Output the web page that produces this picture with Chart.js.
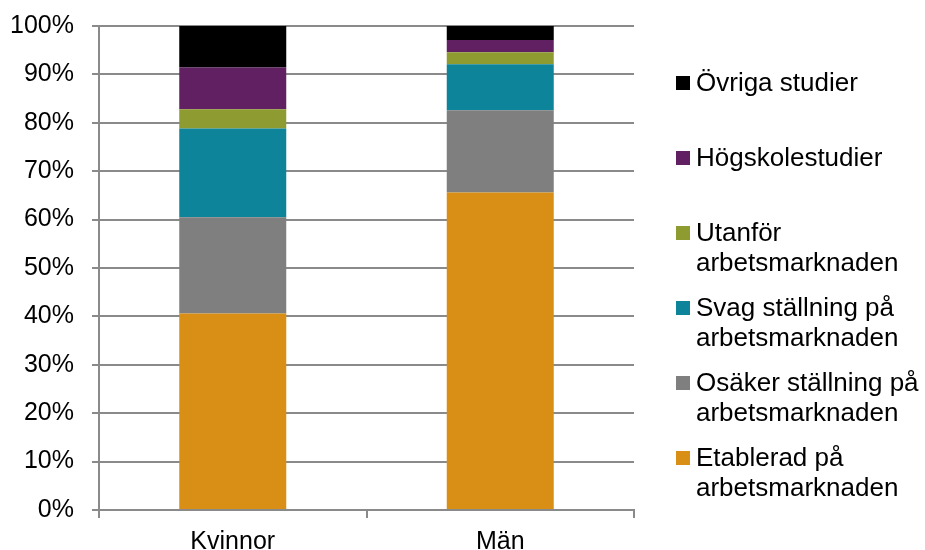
<!DOCTYPE html>
<html>
<head>
<meta charset="utf-8">
<script src="https://cdn.jsdelivr.net/npm/chart.js@4"></script>
<style>
  html, body { margin: 0; padding: 0; background: #ffffff; }
  #wrap { width: 925px; height: 550px; position: relative; }
</style>
</head>
<body>
<div id="wrap"><canvas id="c" width="925" height="550"></canvas></div>
<script>
const categories = ['Kvinnor', 'Män'];
const seriesNames = [
  'Etablerad på\narbetsmarknaden',
  'Osäker ställning på\narbetsmarknaden',
  'Svag ställning på\narbetsmarknaden',
  'Utanför\narbetsmarknaden',
  'Högskolestudier',
  'Övriga studier'
];
const etablerad = [40.6, 65.6];
const osaker    = [19.9, 17.0];
const svag      = [18.3, 9.5];
const utanfor   = [4.0, 2.5];
const hogskole  = [8.6, 2.5];
const ovriga    = [8.6, 2.9];
const seriesColors = ['#d98f15', '#7f7f80', '#0e849b', '#8e9b30', '#602062', '#000000'];
const yTicks = [0, 10, 20, 30, 40, 50, 60, 70, 80, 90, 100];

const seriesValues = [etablerad, osaker, svag, utanfor, hogskole, ovriga];
const FONT = "'Liberation Sans', Arial, sans-serif";
const GRID = '#8a8a8a';

const legendPlugin = {
  id: 'customLegend',
  afterDraw(chart) {
    const ctx = chart.ctx;
    ctx.save();
    ctx.font = '26px ' + FONT;
    ctx.textBaseline = 'middle';
    ctx.textAlign = 'left';
    const ds = chart.data.datasets;
    const x0 = 676, size = 14, top = 83, step = 75, lh = 30;
    for (let i = 0; i < ds.length; i++) {
      const d = ds[ds.length - 1 - i];
      const y = top + i * step;
      ctx.fillStyle = d.backgroundColor;
      ctx.fillRect(x0, y - size / 2, size, size);
      ctx.fillStyle = '#000000';
      const lines = d.label.split('\n');
      lines.forEach((ln, k) => ctx.fillText(ln, x0 + 20, y + 1 + k * lh));
    }
    ctx.restore();
  }
};

new Chart(document.getElementById('c'), {
  type: 'bar',
  data: {
    labels: categories,
    datasets: seriesNames.map((n, i) => ({
      label: n,
      data: seriesValues[i],
      backgroundColor: seriesColors[i],
      borderWidth: 0,
      barPercentage: 0.4,
      categoryPercentage: 1.0
    }))
  },
  options: {
    responsive: false,
    animation: false,
    devicePixelRatio: 1,
    layout: { padding: { top: 26, right: 291, bottom: 0, left: 0 } },
    plugins: { legend: { display: false }, tooltip: { enabled: false } },
    scales: {
      x: {
        stacked: true,
        grid: { offset: true, drawOnChartArea: false, drawTicks: true, tickLength: 8, color: GRID, lineWidth: 2 },
        border: { display: true, color: GRID, width: 2 },
        ticks: { font: { family: FONT, size: 25 }, color: '#000000', padding: 9 },
        afterFit(s) { s.height = 40; s.paddingLeft = 0; s.paddingRight = 0; }
      },
      y: {
        stacked: true,
        min: 0, max: 100,
        afterBuildTicks(s) { s.ticks = yTicks.map(v => ({ value: v })); },
        grid: { color: GRID, lineWidth: 2, tickLength: 7, drawTicks: true },
        border: { display: true, color: GRID, width: 2 },
        ticks: { font: { family: FONT, size: 25 }, color: '#000000', padding: 18, callback: v => v + '%' },
        afterFit(s) { s.width = 99; s.paddingTop = 0; s.paddingBottom = 0; }
      }
    }
  },
  plugins: [legendPlugin]
});
</script>
</body>
</html>
